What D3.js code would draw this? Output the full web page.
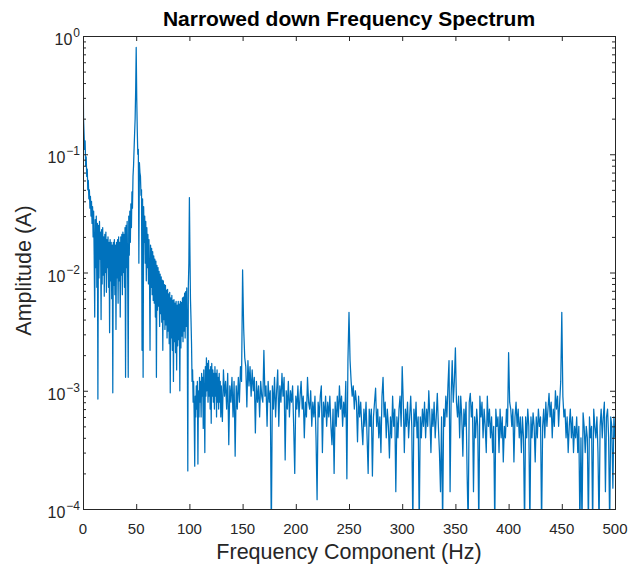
<!DOCTYPE html>
<html>
<head>
<meta charset="utf-8">
<script src="https://cdn.jsdelivr.net/npm/d3@7/dist/d3.min.js"></script>
<style>
    body { margin: 0; background: #fff; }
    svg text { font-family: "Liberation Sans", Arial, sans-serif; fill: #262626; }
</style>
</head>
<body>
<div id="chart"></div>
<script>
// spectrum amplitude (A)
// 0 .. 129.5 Hz in 0.5 Hz bins
const ampLow = [
    0.95, 0.2, 0.15, 0.11, 0.13, 0.08, 0.095, 0.065, 0.075, 0.05,
    0.06, 0.042, 0.05, 0.035, 0.044, 0.03, 0.04, 0.026, 0.036, 0.02,
    0.033, 0.014, 0.0042, 0.028, 0.011, 0.03, 0.0075, 0.026, 0.00085, 0.025,
    0.009, 0.027, 0.013, 0.022, 0.004, 0.023, 0.008, 0.024, 0.0095, 0.02,
    0.0063, 0.021, 0.01, 0.022, 0.0068, 0.019, 0.011, 0.02, 0.0075, 0.018,
    0.0031, 0.019, 0.0085, 0.018, 0.006, 0.017, 0.00096, 0.018, 0.0078, 0.019,
    0.0065, 0.017, 0.0033, 0.018, 0.009, 0.019, 0.0055, 0.02, 0.0085, 0.018,
    0.0042, 0.02, 0.0095, 0.021, 0.0065, 0.022, 0.01, 0.021, 0.0075, 0.024,
    0.0013, 0.025, 0.011, 0.027, 0.0085, 0.0013, 0.03, 0.014, 0.033, 0.018,
    0.038, 0.024, 0.048, 0.035, 0.065, 0.08, 0.11, 0.15, 0.2, 0.35,
    0.8, 0.3, 0.16, 0.1, 0.11, 0.012, 0.085, 0.07, 0.065, 0.045,
    0.05, 0.0022, 0.042, 0.0013, 0.036, 0.018, 0.03, 0.012, 0.027, 0.0085,
    0.024, 0.011, 0.021, 0.008, 0.019, 0.009, 0.0022, 0.017, 0.0075, 0.016,
    0.0065, 0.015, 0.0058, 0.0138, 0.0055, 0.013, 0.0042, 0.0125, 0.0013, 0.0115,
    0.0048, 0.011, 0.0052, 0.0102, 0.0035, 0.0097, 0.0045, 0.0092, 0.0038, 0.0086,
    0.0022, 0.0085, 0.004, 0.0079, 0.0033, 0.0078, 0.0036, 0.0071, 0.0028, 0.0072,
    0.0032, 0.0066, 0.0025, 0.0068, 0.00096, 0.0061, 0.0028, 0.0064, 0.0022, 0.0058,
    0.0012, 0.0059, 0.0026, 0.0055, 0.0021, 0.0057, 0.0015, 0.0053, 0.0024, 0.0057,
    0.0027, 0.0054, 0.001, 0.0057, 0.0023, 0.0056, 0.0029, 0.0061, 0.0026, 0.0062,
    0.0032, 0.0067, 0.0028, 0.0069, 0.0035, 0.0074, 0.0031, 0.00021, 0.0078, 0.012,
    0.043, 0.015, 0.006, 0.004, 0.0025, 0.0012, 0.0015, 0.0008, 0.0012, 0.0006,
    0.00023, 0.0009, 0.0006, 0.0011, 0.0007, 0.0012, 0.00024, 0.001, 0.0006, 0.0013,
    0.0008, 0.0012, 0.0006, 0.0014, 0.0009, 0.0013, 0.00048, 0.0015, 0.0008, 0.0003,
    0.0016, 0.0009, 0.0019, 0.001, 0.0017, 0.0008, 0.0018, 0.0009, 0.0015, 0.0007,
    0.0016, 0.00053, 0.0017, 0.0009, 0.0015, 0.0008, 0.0014, 0.0007, 0.0016, 0.0009,
    0.0014, 0.0006, 0.0015, 0.0008, 0.0013, 0.0007, 0.0014, 0.0008, 0.0012, 0.0006
];
// 130 .. 500 Hz in 1 Hz bins
const ampHigh = [
    0.0011, 0.00055, 0.0015, 0.0009, 0.0012, 0.0007, 0.0014, 0.00035, 0.0011, 0.0008,
    0.0013, 0.0006, 0.0012, 0.00028, 0.0011, 0.0007, 0.0013, 0.0008, 0.0016, 0.0012,
    0.0105, 0.0034, 0.0019, 0.0016, 0.00073, 0.0018, 0.0011, 0.0016, 0.0009, 0.0015,
    0.001, 0.0013, 0.00044, 0.0012, 0.0008, 0.0011, 0.0006, 0.0012, 0.0009, 0.0008,
    0.0022, 0.0009, 0.0011, 0.0005, 0.0012, 0.0008, 0.001, 0.00006, 0.0011, 0.0007,
    0.0013, 0.0006, 0.001, 0.0015, 0.0005, 0.0011, 0.0008, 0.0014, 0.0009, 0.0013,
    0.00026, 0.001, 0.0007, 0.0012, 0.0006, 0.001, 0.0008, 0.0011, 0.0005, 0.0002,
    0.0009, 0.0007, 0.0011, 0.0006, 0.0009, 0.0012, 0.0007, 0.0009, 0.0004, 0.0008,
    0.0006, 0.0013, 0.0008, 0.0007, 0.001, 0.0005, 0.0008, 0.0006, 0.0009, 0.0004,
    0.00012, 0.0008, 0.0006, 0.0009, 0.0011, 0.0003, 0.0008, 0.0006, 0.0009, 0.0005,
    0.0008, 0.0006, 0.0009, 0.0005, 0.00035, 0.0007, 0.0002, 0.0008, 0.0005, 0.0009,
    0.0006, 0.0011, 0.0007, 0.0009, 0.0005, 0.0008, 0.0006, 0.0012, 0.00018, 0.0018,
    0.0046, 0.0018, 0.0012, 0.0009, 0.0011, 0.0007, 0.001, 0.0008, 0.00037, 0.0009,
    0.0006, 0.0008, 0.0005, 0.00035, 0.0007, 0.0005, 0.0008, 0.0004, 0.0002, 0.0007,
    0.0005, 0.0007, 0.00019, 0.0006, 0.0008, 0.00105, 0.0005, 0.0007, 0.0004, 0.0006,
    0.0003, 0.0009, 0.0013, 0.0006, 0.0008, 0.0004, 0.0007, 0.0005, 0.00027, 0.0006,
    0.0004, 0.0009, 0.0005, 0.0007, 0.00014, 0.0006, 0.0004, 0.0007, 0.0009, 0.0005,
    0.0016, 0.0008, 0.0003, 0.0007, 0.0005, 0.0008, 0.0004, 0.0006, 0.0009, 0.0005,
    0.00007, 0.0007, 0.0005, 0.0008, 0.0004, 0.0006, 0.00007, 0.0006, 0.0004, 0.0007,
    0.0005, 0.0008, 0.0004, 0.0007, 0.0005, 0.001, 0.0006, 0.0003, 0.0007, 0.0005,
    0.0008, 0.0004, 0.0006, 0.00095, 0.0005, 0.0003, 0.00014, 0.0006, 0.00007, 0.0007,
    0.0005, 0.0009, 0.0006, 0.0011, 0.0018, 0.00014, 0.0009, 0.0018, 0.0008, 0.0012,
    0.0023, 0.0008, 0.0006, 0.0009, 0.0004, 0.0009, 0.0006, 0.00028, 0.0007, 0.0005,
    0.0008, 0.0002, 0.00007, 0.0008, 0.00095, 0.0006, 0.0008, 0.00014, 0.0006, 0.0004,
    0.0007, 0.0005, 0.00007, 0.0009, 0.0006, 0.0008, 0.0004, 0.0007, 0.0005, 0.0003,
    0.0009, 0.0005, 0.0007, 0.0004, 0.0006, 0.0003, 0.0005, 0.00007, 0.0007, 0.0005,
    0.0006, 0.0003, 0.0007, 0.0004, 0.0006, 0.00025, 0.0005, 0.0004, 0.0007, 0.0005,
    0.0021, 0.0008, 0.0007, 0.0005, 0.0007, 0.00025, 0.0006, 0.0008, 0.0005, 0.0007,
    0.0004, 0.0006, 0.0003, 0.0006, 0.0004, 0.00007, 0.0006, 0.0004, 0.0007, 0.0005,
    0.00007, 0.0006, 0.0004, 0.00065, 0.0005, 0.00025, 0.0006, 0.0004, 0.0007, 0.0005,
    0.0006, 0.00007, 0.0005, 0.0007, 0.0004, 0.0008, 0.0005, 0.0007, 0.00095, 0.0006,
    0.0008, 0.0004, 0.0007, 0.0005, 0.001, 0.0007, 0.0009, 0.0005, 0.0008, 0.0012,
    0.0046, 0.0009, 0.0006, 0.0007, 0.0004, 0.0006, 0.0003, 0.0005, 0.0007, 0.0004,
    0.0006, 0.0003, 0.0005, 0.0004, 0.0006, 0.0003, 0.0005, 0.00007, 0.0004, 0.00007,
    0.00065, 0.0005, 0.0003, 0.0005, 0.0004, 0.00007, 0.0006, 0.0004, 0.0005, 0.00007,
    0.0007, 0.0005, 0.0004, 0.0006, 0.0003, 0.00007, 0.0005, 0.0007, 0.0004, 0.0006,
    0.0008, 0.00014, 0.0006, 0.0007, 0.0004, 0.00007, 0.0006, 0.0005, 0.00015, 0.0006,
    0.0004
];
// frequency bins matching the two blocks above
const freq = d3.range(0, 130, 0.5).concat(d3.range(130, 501));
const amplitude = ampLow.concat(ampHigh);

const xTicks = [0, 50, 100, 150, 200, 250, 300, 350, 400, 450, 500];
const yExponents = [-4, -3, -2, -1, 0];

const titleText = "Narrowed down Frequency Spectrum";
const xLabelText = "Frequency Component (Hz)";
const yLabelText = "Amplitude (A)";

function init() {
    let w = 630;
    let h = 569;
    let m = {left: 83, right: 15, top: 36, bottom: 60};
    let axisColor = "#262626";

    let svg = d3.select("#chart")
        .append("svg")
        .attr("width", w)
        .attr("height", h);

    let x = d3.scaleLinear()
        .domain([0, 500])
        .range([m.left, w - m.right]);

    let y = d3.scaleLog()
        .domain([1e-4, 1])
        .range([h - m.bottom, m.top]);

    // clip so dips below 1e-4 get cut at the axis
    svg.append("clipPath")
        .attr("id", "plotClip")
        .append("rect")
        .attr("x", m.left)
        .attr("y", m.top)
        .attr("width", w - m.left - m.right)
        .attr("height", h - m.top - m.bottom);

    let line = d3.line()
        .x(function (d, i) { return x(freq[i]); })
        .y(function (d) { return y(d); });

    svg.append("path")
        .datum(amplitude)
        .attr("clip-path", "url(#plotClip)")
        .attr("d", line)
        .attr("fill", "none")
        .attr("stroke", "#0072BD")
        .attr("stroke-width", 1.25)
        .attr("stroke-linejoin", "round");

    // minor log ticks (2..9 in each decade)
    let minor = y.ticks().filter(function (v) {
        let e = Math.log10(v);
        return Math.abs(e - Math.round(e)) > 1e-6;
    });
    let major = yExponents.map(function (e) { return Math.pow(10, e); });

    // axes with inward ticks, box on
    svg.append("g")
        .attr("transform", "translate(0," + (h - m.bottom) + ")")
        .call(d3.axisBottom(x).tickValues(xTicks).tickSize(-5).tickFormat(""));
    svg.append("g")
        .attr("transform", "translate(0," + m.top + ")")
        .call(d3.axisTop(x).tickValues(xTicks).tickSize(-5).tickFormat(""));
    svg.append("g")
        .attr("transform", "translate(" + m.left + ",0)")
        .call(d3.axisLeft(y).tickValues(major).tickSize(-5).tickFormat(""));
    svg.append("g")
        .attr("transform", "translate(" + m.left + ",0)")
        .call(d3.axisLeft(y).tickValues(minor).tickSize(-3).tickFormat(""));
    svg.append("g")
        .attr("transform", "translate(" + (w - m.right) + ",0)")
        .call(d3.axisRight(y).tickValues(major).tickSize(-5).tickFormat(""));
    svg.append("g")
        .attr("transform", "translate(" + (w - m.right) + ",0)")
        .call(d3.axisRight(y).tickValues(minor).tickSize(-3).tickFormat(""));

    svg.selectAll(".domain").attr("stroke", axisColor).attr("stroke-width", 1);
    svg.selectAll(".tick line").attr("stroke", axisColor).attr("stroke-width", 1);

    // x tick labels
    svg.selectAll(".xlab")
        .data(xTicks)
        .enter()
        .append("text")
        .attr("class", "xlab")
        .attr("x", function (d) { return x(d); })
        .attr("y", h - m.bottom + 25)
        .attr("text-anchor", "middle")
        .style("font-size", "15px")
        .text(function (d) { return d; });

    // y tick labels as 10^n
    let ylab = svg.selectAll(".ylab")
        .data(yExponents)
        .enter()
        .append("text")
        .attr("class", "ylab")
        .attr("x", m.left - 3)
        .attr("y", function (d) { return y(Math.pow(10, d)) + 9; })
        .attr("text-anchor", "end")
        .style("font-size", "16px");
    ylab.append("tspan").text("10");
    ylab.append("tspan")
        .attr("dy", -8)
        .attr("dx", 1)
        .style("font-size", "12px")
        .text(function (d) { return d < 0 ? "\u2212" + (-d) : d; });

    // title and axis labels
    svg.append("text")
        .attr("x", (m.left + w - m.right) / 2)
        .attr("y", 26)
        .attr("text-anchor", "middle")
        .style("font-size", "21px")
        .style("font-weight", "bold")
        .style("fill", "#000")
        .text(titleText);

    svg.append("text")
        .attr("x", (m.left + w - m.right) / 2)
        .attr("y", h - 10)
        .attr("text-anchor", "middle")
        .style("font-size", "21.5px")
        .text(xLabelText);

    svg.append("text")
        .attr("transform", "translate(31," + ((m.top + h - m.bottom) / 2 - 2) + ") rotate(-90)")
        .attr("text-anchor", "middle")
        .style("font-size", "21.5px")
        .text(yLabelText);
}

window.onload = init;
</script>
</body>
</html>
